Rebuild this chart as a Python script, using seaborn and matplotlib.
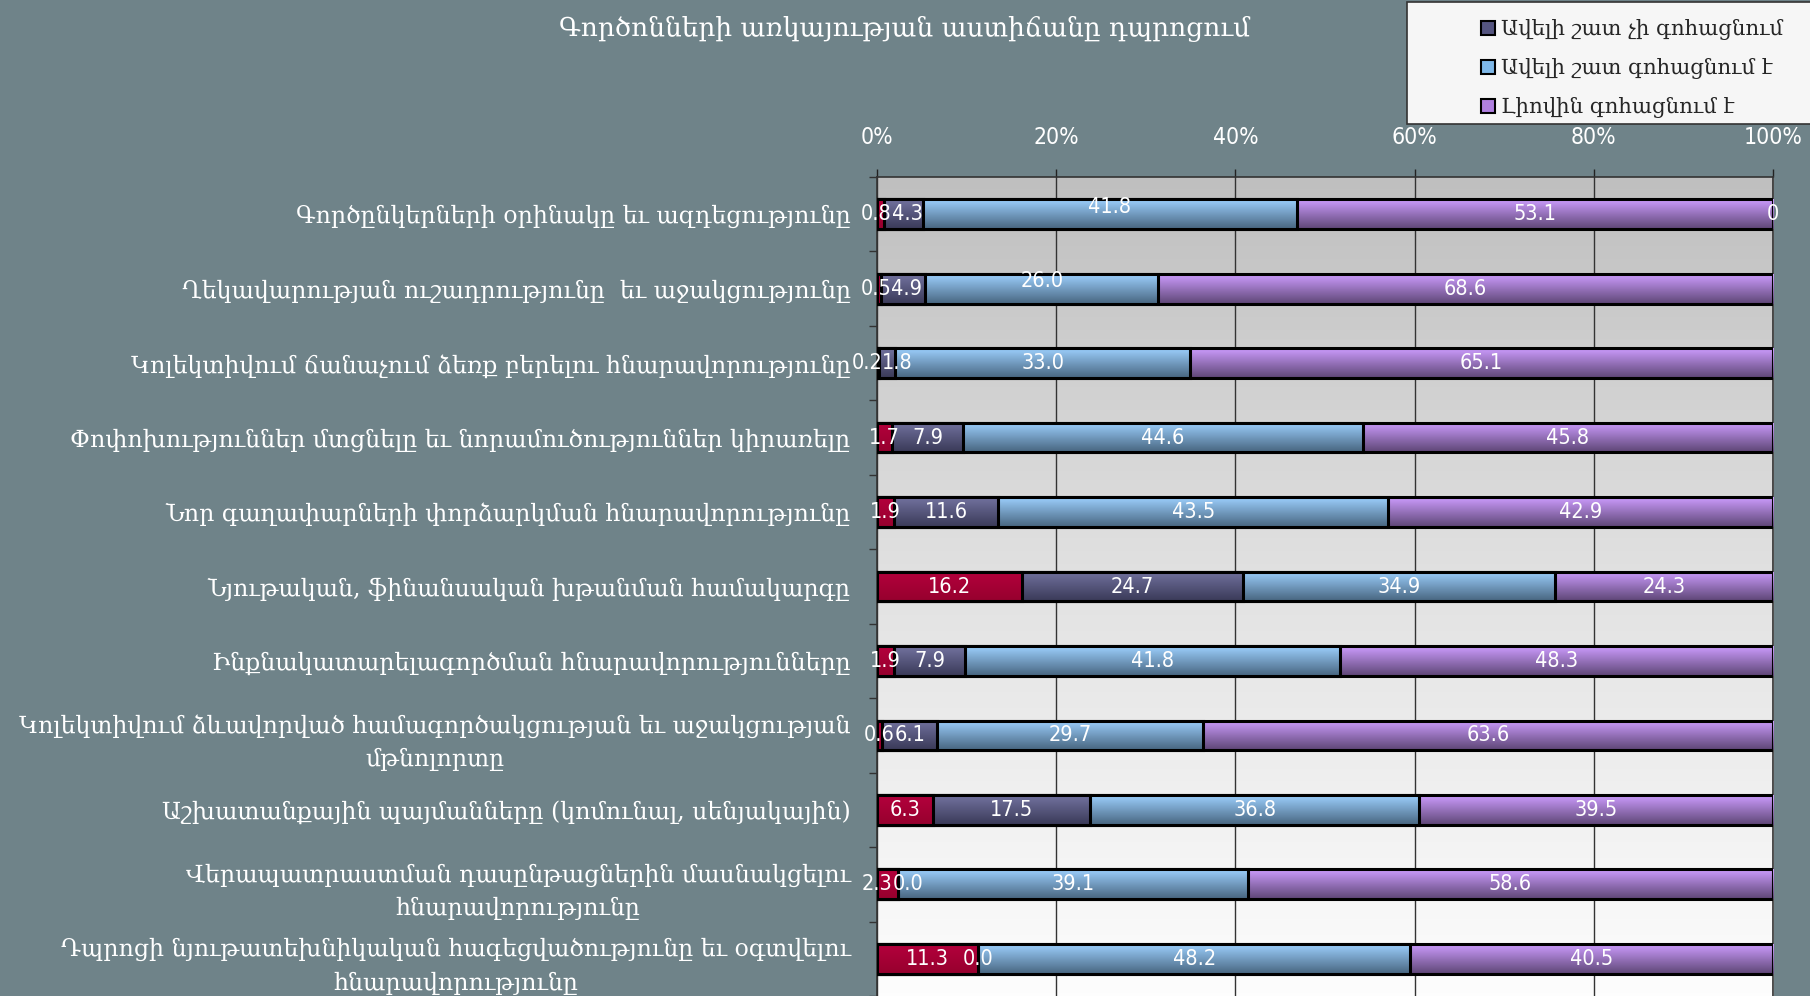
import numpy as np
import pandas as pd
import matplotlib
matplotlib.use("Agg")
import matplotlib.pyplot as plt
import seaborn as sns
from matplotlib.colors import LinearSegmentedColormap
from matplotlib.patches import Patch, Rectangle

# Տվյալներ
categories = [
    "Գործընկերների օրինակը եւ ազդեցությունը",
    "Ղեկավարության ուշադրությունը  եւ աջակցությունը",
    "Կոլեկտիվում ճանաչում ձեռք բերելու հնարավորությունը",
    "Փոփոխություններ մտցնելը եւ նորամուծություններ կիրառելը",
    "Նոր գաղափարների փորձարկման հնարավորությունը",
    "Նյութական, ֆինանսական խթանման համակարգը",
    "Ինքնակատարելագործման հնարավորությունները",
    "Կոլեկտիվում ձևավորված համագործակցության եւ աջակցության\nմթնոլորտը",
    "Աշխատանքային պայմանները (կոմունալ, սենյակային)",
    "Վերապատրաստման դասընթացներին մասնակցելու\nհնարավորությունը",
    "Դպրոցի նյութատեխնիկական հագեցվածությունը եւ օգտվելու\nհնարավորությունը",
]
not_at_all = [0.8, 0.5, 0.2, 1.7, 1.9, 16.2, 1.9, 0.6, 6.3, 2.3, 11.3]
rather_not = [4.3, 4.9, 1.8, 7.9, 11.6, 24.7, 7.9, 6.1, 17.5, 0.0, 0.0]
rather_yes = [41.8, 26.0, 33.0, 44.6, 43.5, 34.9, 41.8, 29.7, 36.8, 39.1, 48.2]
fully_yes = [53.1, 68.6, 65.1, 45.8, 42.9, 24.3, 48.3, 63.6, 39.5, 58.6, 40.5]
series_names = ["Բոլորովին չի գոհացնում", "Ավելի շատ չի գոհացնում",
                "Ավելի շատ գոհացնում է", "Լիովին գոհացնում է"]
title = "Գործոնների առկայության աստիճանը դպրոցում"

df = pd.DataFrame({"factor": categories, "s0": not_at_all, "s1": rather_not,
                   "s2": rather_yes, "s3": fully_yes})
cols = ["s0", "s1", "s2", "s3"]
total = df[cols].sum(axis=1)
cum = df[cols].cumsum(axis=1).div(total, axis=0) * 100
for c in cols:
    df["cum_" + c] = cum[c]

# գույներ (վերև, ներքև)
grads = {
    "s0": ("#b4003c", "#96002e"),
    "s1": ("#72729f", "#3a3a58"),
    "s2": ("#9ccffd", "#486680"),
    "s3": ("#cc9cfd", "#5e4676"),
}
legend_colors = {"s1": "#555580", "s2": "#7fb8e8", "s3": "#b080e0"}

armen = ["DejaVu Serif", "DejaVu Sans"]

sns.set_theme(style="white")
plt.rcParams["font.family"] = armen

fig = plt.figure(figsize=(18.1, 9.96), dpi=100)
fig.patch.set_facecolor("#6f8389")
ax = fig.add_axes([877 / 1810, 0.0, (1773 - 877) / 1810, 1 - 177 / 996])

# ֆոնի գրադիենտ
bg = LinearSegmentedColormap.from_list("bg", ["#bfbfbf", "#e2e2e2", "#fdfdfd"])
ax.imshow(np.linspace(0, 1, 256).reshape(-1, 1), cmap=bg, aspect="auto",
          extent=(0, 1, 0, 1), transform=ax.transAxes, origin="upper", zorder=0)

# շերտերով գծում (վերջից սկիզբ)
for k, c in enumerate(reversed(cols)):
    n_before = len(ax.patches)
    sns.barplot(data=df, x="cum_" + c, y="factor", color=grads[c][0],
                saturation=1, width=0.4, orient="h", errorbar=None, ax=ax)
    cmap = LinearSegmentedColormap.from_list(c, list(grads[c]))
    for p in ax.patches[n_before:]:
        x0, y0 = p.get_x(), p.get_y()
        w, h = p.get_width(), p.get_height()
        z = 10 + 2 * k
        im = ax.imshow(np.linspace(0, 1, 64).reshape(-1, 1), cmap=cmap,
                       aspect="auto", extent=(x0, x0 + w, y0 + h, y0),
                       origin="upper", zorder=z)
        im.set_clip_path(p)
        p.set_facecolor("none")
        p.set_edgecolor("black")
        p.set_linewidth(2.2)
        p.set_zorder(z + 1)

ax.set_xlim(0, 100)
ax.set_ylim(len(df) - 0.5, -0.5)

# թվային պիտակներ
num_font = dict(family="DejaVu Sans", fontstretch="condensed", color="white",
                fontsize=15.5, zorder=40)
nudge = {(0, "s2"): -0.1, (1, "s2"): -0.1}
row_labels = []
for i in range(len(df)):
    texts = []
    for c in cols:
        right = df.loc[i, "cum_" + c]
        w = df.loc[i, c] / total[i] * 100
        texts.append(ax.text(right - w / 2, i + nudge.get((i, c), 0),
                             f"{df.loc[i, c]:.1f}", ha="center", va="center",
                             **num_font))
    row_labels.append(texts)
ax.text(100, 0, "0", ha="center", va="center", **num_font)

# փոքր հատվածների պիտակները հեռացնել իրարից
fig.canvas.draw()
renderer = fig.canvas.get_renderer()
inv = ax.transData.inverted()
for texts in row_labels:
    for a, b in zip(texts[:-1], texts[1:]):
        ea = a.get_window_extent(renderer)
        eb = b.get_window_extent(renderer)
        overlap = ea.x1 - eb.x0
        if overlap > 0:
            d = inv.transform((overlap / 2, 0))[0] - inv.transform((0, 0))[0]
            a.set_x(a.get_position()[0] - d)
            b.set_x(b.get_position()[0] + d)

ax.set_xticks([0, 20, 40, 60, 80, 100])
ax.set_xticklabels(["0%", "20%", "40%", "60%", "80%", "100%"])
ax.xaxis.tick_top()
ax.tick_params(axis="x", top=True, bottom=False, labeltop=True, labelbottom=False,
               direction="out", length=6, width=1, color="#222222", pad=14,
               labelsize=16.5, labelcolor="white")
for t in ax.get_xticklabels():
    t.set_family("DejaVu Sans")
    t.set_fontstretch("condensed")
ax.grid(axis="x", color="#333333", linewidth=1)
ax.grid(axis="y", visible=False)
ax.set_axisbelow(True)

ax.set_yticks(range(len(df)))
ax.set_yticklabels(categories)
ax.set_yticks(np.arange(-0.5, len(df), 1), minor=True)
ax.tick_params(axis="y", which="major", length=0, pad=19, labelsize=17,
               labelcolor="white")
ax.tick_params(axis="y", which="minor", left=True, length=6, width=1,
               color="#333333", direction="out")
for t in ax.get_yticklabels():
    t.set_multialignment("center")
    t.set_linespacing(1.55)
ax.set_xlabel("")
ax.set_ylabel("")
for s in ["top", "left", "right"]:
    ax.spines[s].set_color("#333333")
    ax.spines[s].set_linewidth(1.2)
ax.spines["bottom"].set_visible(False)

fig.text(905 / 1810, 1 - 29 / 996, title, ha="center", va="center",
         color="white", fontsize=19)

# լեգենդ
fig.patches.append(Rectangle((1407 / 1810, 1 - 124 / 996), 0.3, 122 / 996,
                             transform=fig.transFigure, facecolor="#f6f6f6",
                             edgecolor="#333333", linewidth=1.2, zorder=5))
handles = [Patch(facecolor=legend_colors[c], edgecolor="black", linewidth=1.5,
                 label=series_names[j + 1]) for j, c in enumerate(cols[1:])]
leg = fig.legend(handles=handles, loc="upper left", frameon=False,
                 bbox_to_anchor=(1462 / 1810, 1.0), fontsize=15.3,
                 handlelength=0.65, handleheight=0.65, handletextpad=0.3,
                 labelspacing=0.85)
leg.set_zorder(6)

fig.savefig("out.png", dpi=100, facecolor=fig.get_facecolor())
